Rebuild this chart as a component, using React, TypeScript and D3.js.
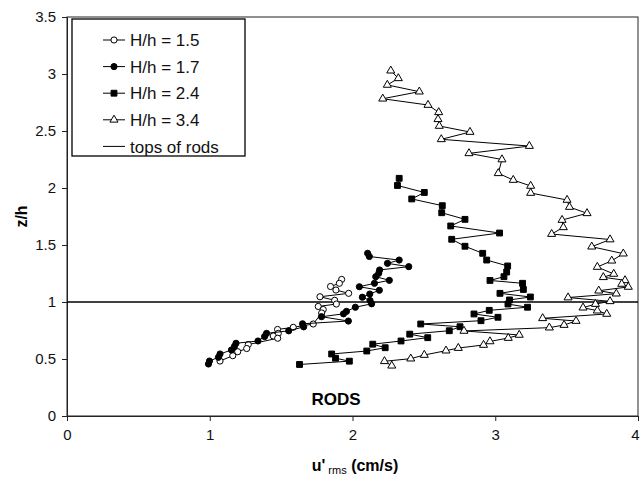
import React, { useEffect, useRef } from "react";
import * as d3 from "d3";

// u'rms (cm/s), z/h pairs, ordered by height
const hh15: [number, number][] = [
  [1.924, 1.198], [1.908, 1.164], [1.846, 1.136], [1.884, 1.105], [1.973, 1.076],
  [1.772, 1.046], [1.875, 1.015], [1.887, 0.982], [1.76, 0.961], [1.795, 0.934],
  [1.784, 0.904], [1.725, 0.807], [1.585, 0.778], [1.475, 0.759], [1.48, 0.725],
  [1.445, 0.702], [1.476, 0.682], [1.27, 0.627], [1.259, 0.592], [1.196, 0.564],
  [1.161, 0.529], [1.072, 0.482],
];

const hh17: [number, number][] = [
  [2.106, 1.427], [2.118, 1.399], [2.327, 1.368], [2.245, 1.339], [2.394, 1.31],
  [2.19, 1.281], [2.184, 1.252], [2.163, 1.222], [2.258, 1.19], [2.154, 1.164],
  [2.048, 1.134], [2.188, 1.103], [2.121, 1.07], [2.069, 1.042], [2.123, 1.013],
  [2.134, 0.984], [2.02, 0.954], [1.958, 0.918], [1.937, 0.896], [1.783, 0.871],
  [1.971, 0.833], [1.65, 0.809], [1.658, 0.782], [1.553, 0.747], [1.398, 0.725],
  [1.384, 0.697], [1.338, 0.658], [1.184, 0.638], [1.173, 0.61], [1.152, 0.579],
  [1.072, 0.544], [1.061, 0.515], [0.998, 0.482], [0.991, 0.456],
];

const hh24: [number, number][] = [
  [2.327, 2.085], [2.315, 2.022], [2.503, 1.961], [2.415, 1.904], [2.629, 1.845],
  [2.625, 1.783], [2.788, 1.725], [2.688, 1.667], [3.03, 1.605], [2.695, 1.55],
  [2.788, 1.489], [2.912, 1.427], [2.94, 1.368], [3.087, 1.316], [3.08, 1.263],
  [3.061, 1.222], [2.963, 1.189], [3.191, 1.164], [3.197, 1.11], [3.033, 1.076],
  [3.246, 1.044], [3.1, 1.018], [3.089, 0.982], [3.226, 0.954], [2.958, 0.927],
  [2.851, 0.895], [3.019, 0.866], [2.9, 0.836], [2.478, 0.807], [2.753, 0.783],
  [2.678, 0.748], [2.401, 0.718], [2.527, 0.687], [2.34, 0.658], [2.142, 0.63],
  [2.229, 0.599], [2.1, 0.57], [1.854, 0.544], [1.881, 0.507], [1.978, 0.481],
  [1.629, 0.452],
];

const hh34: [number, number][] = [
  [2.268, 3.029], [2.321, 2.962], [2.244, 2.904], [2.468, 2.845], [2.212, 2.783],
  [2.529, 2.728], [2.604, 2.664], [2.599, 2.603], [2.608, 2.544], [2.823, 2.491],
  [2.622, 2.427], [3.239, 2.368], [2.816, 2.304], [3.047, 2.25], [3.021, 2.129],
  [3.126, 2.07], [3.248, 2.018], [3.248, 1.956], [3.503, 1.895], [3.52, 1.833],
  [3.643, 1.778], [3.468, 1.719], [3.477, 1.655], [3.395, 1.596], [3.804, 1.548],
  [3.676, 1.485], [3.897, 1.424], [3.816, 1.362], [3.715, 1.307], [3.83, 1.246],
  [3.757, 1.217], [3.909, 1.19], [3.886, 1.158], [3.932, 1.132], [3.725, 1.099],
  [3.848, 1.073], [3.51, 1.039], [3.804, 1.006], [3.702, 0.982], [3.615, 0.95],
  [3.715, 0.924], [3.781, 0.895], [3.332, 0.857], [3.566, 0.833], [3.482, 0.798],
  [3.379, 0.775], [2.781, 0.746], [3.168, 0.711], [3.091, 0.684], [2.963, 0.654],
  [2.918, 0.623], [2.741, 0.596], [2.655, 0.573], [2.503, 0.535], [2.408, 0.503],
  [2.224, 0.48], [2.275, 0.441],
];

const legendLabels = ["H/h = 1.5", "H/h = 1.7", "H/h = 2.4", "H/h = 3.4", "tops of rods"];
const xTicks = [0, 1, 2, 3, 4];
const yTicks = [0, 0.5, 1, 1.5, 2, 2.5, 3, 3.5];
const rodTop = 1;

const font = "'Liberation Sans', Arial, sans-serif";

export default function App() {
  const svgRef = useRef<SVGSVGElement>(null);

  useEffect(() => {
    const svg = d3.select(svgRef.current);
    svg.selectChildren().remove();

    const left = 67,
      right = 638,
      top = 17,
      bottom = 416;

    const x = d3.scaleLinear().domain([0, 4]).range([left, right]);
    const y = d3.scaleLinear().domain([0, 3.5]).range([bottom, top]);

    const line = d3
      .line<[number, number]>()
      .x((d) => x(d[0]))
      .y((d) => y(d[1]));

    // frame
    svg
      .append("rect")
      .attr("x", left)
      .attr("y", top)
      .attr("width", right - left)
      .attr("height", bottom - top)
      .attr("fill", "none")
      .attr("stroke", "#222")
      .attr("stroke-width", 1);

    // axes
    const yAxis = svg
      .append("g")
      .attr("transform", `translate(${left},0)`)
      .call(d3.axisLeft(y).tickValues(yTicks).tickSize(5).tickFormat((d) => String(d)));
    const xAxis = svg
      .append("g")
      .attr("transform", `translate(0,${bottom})`)
      .call(
        d3
          .axisBottom(x)
          .tickValues(xTicks)
          .tickSize(5)
          .tickPadding(8)
          .tickFormat((d) => String(d))
      );
    [yAxis, xAxis].forEach((g) => {
      g.select(".domain").attr("stroke", "#222");
      g.selectAll("line").attr("stroke", "#222");
      g.selectAll("text")
        .attr("font-family", font)
        .attr("font-size", 15)
        .attr("fill", "#111");
    });
    yAxis.selectAll("text").attr("dx", "-3");
    // last x label sits at the right edge of the page
    xAxis
      .selectAll<SVGTextElement, number>("text")
      .filter((d) => d === 4)
      .attr("dx", "-3");

    // tops of rods
    svg
      .append("line")
      .attr("x1", left)
      .attr("x2", right)
      .attr("y1", y(rodTop))
      .attr("y2", y(rodTop))
      .attr("stroke", "#000")
      .attr("stroke-width", 1.3);

    const series = [
      { data: hh15, shape: "circle", fill: "#fff" },
      { data: hh17, shape: "circle", fill: "#000" },
      { data: hh24, shape: "square", fill: "#000" },
      { data: hh34, shape: "triangle", fill: "#fff" },
    ];

    const symbolFor = (shape: string) =>
      shape === "circle"
        ? d3.symbol(d3.symbolCircle, 30)
        : shape === "square"
        ? d3.symbol(d3.symbolSquare, 34)
        : d3.symbol(d3.symbolTriangle, 28);

    series.forEach((s) => {
      svg
        .append("path")
        .attr("d", line(s.data))
        .attr("fill", "none")
        .attr("stroke", "#000")
        .attr("stroke-width", 1);
      svg
        .append("g")
        .selectAll("path")
        .data(s.data)
        .enter()
        .append("path")
        .attr("transform", (d) => `translate(${x(d[0])},${y(d[1])})`)
        .attr("d", symbolFor(s.shape)() as string)
        .attr("fill", s.fill)
        .attr("stroke", "#000")
        .attr("stroke-width", 1);
    });

    // legend
    const lg = svg.append("g");
    lg.append("rect")
      .attr("x", 72)
      .attr("y", 19)
      .attr("width", 173)
      .attr("height", 137)
      .attr("fill", "#fff")
      .attr("stroke", "#000")
      .attr("stroke-width", 1.3);
    legendLabels.forEach((label, i) => {
      const ly = 40 + i * 26.6;
      lg.append("line")
        .attr("x1", 103)
        .attr("x2", 125)
        .attr("y1", ly)
        .attr("y2", ly)
        .attr("stroke", "#000")
        .attr("stroke-width", 1);
      if (i < 4) {
        const s = series[i];
        lg.append("path")
          .attr("transform", `translate(114,${ly})`)
          .attr("d", symbolFor(s.shape)() as string)
          .attr("fill", s.fill)
          .attr("stroke", "#000")
          .attr("stroke-width", 1);
      }
      lg.append("text")
        .attr("x", 130)
        .attr("y", ly)
        .attr("dy", "0.36em")
        .attr("font-family", font)
        .attr("font-size", 17)
        .attr("fill", "#111")
        .text(label);
    });

    // annotation
    svg
      .append("text")
      .attr("x", 336)
      .attr("y", 405)
      .attr("text-anchor", "middle")
      .attr("font-family", font)
      .attr("font-size", 17)
      .attr("font-weight", "bold")
      .text("RODS");

    // axis titles
    const xt = svg
      .append("text")
      .attr("x", 355)
      .attr("y", 471)
      .attr("text-anchor", "middle")
      .attr("font-family", font)
      .attr("font-size", 16)
      .attr("font-weight", "bold");
    xt.append("tspan").text("u'");
    xt.append("tspan").attr("font-size", 11).attr("font-weight", "normal").attr("dy", 3).text(" rms");
    xt.append("tspan").attr("dy", -3).text(" (cm/s)");

    svg
      .append("text")
      .attr("transform", `translate(27,${y(1.75)}) rotate(-90)`)
      .attr("text-anchor", "middle")
      .attr("font-family", font)
      .attr("font-size", 16)
      .attr("font-weight", "bold")
      .text("z/h");
  }, []);

  return (
    <div style={{ position: "absolute", left: 0, top: 0 }}>
      <svg ref={svgRef} width={644} height={480} style={{ display: "block", background: "#fff" }} />
    </div>
  );
}
